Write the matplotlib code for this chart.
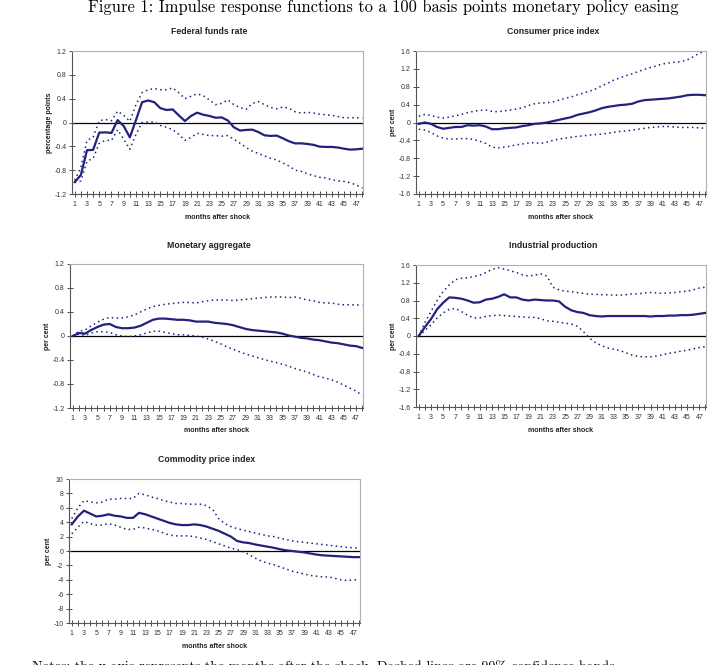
import matplotlib
matplotlib.use("Agg")
import matplotlib.pyplot as plt
from matplotlib import ticker
import numpy as np

plt.rcParams['axes.unicode_minus'] = False
plt.rcParams['font.family'] = ['Liberation Sans', 'DejaVu Sans']

months = list(range(1, 49))
xtick_labels = list(range(1, 48, 2))

ffr_mid = [-1.0, -0.88, -0.465, -0.46, -0.17, -0.165, -0.175, 0.04, -0.06, -0.25, 0.04, 0.34,
           0.37, 0.34, 0.24, 0.21, 0.22, 0.12, 0.025, 0.11, 0.165, 0.13, 0.11, 0.08,
           0.085, 0.035, -0.08, -0.135, -0.125, -0.12, -0.16, -0.215, -0.225, -0.22, -0.265, -0.315,
           -0.35, -0.35, -0.36, -0.375, -0.405, -0.41, -0.41, -0.42, -0.44, -0.455, -0.45, -0.44]
ffr_up = [-0.97, -0.75, -0.3, -0.25, 0.03, 0.05, 0.03, 0.19, 0.12, 0.02, 0.3, 0.5,
          0.55, 0.57, 0.55, 0.55, 0.58, 0.5, 0.4, 0.44, 0.48, 0.45, 0.38, 0.3,
          0.32, 0.38, 0.3, 0.25, 0.22, 0.32, 0.35, 0.3, 0.25, 0.23, 0.26, 0.24,
          0.18, 0.16, 0.17, 0.16, 0.14, 0.13, 0.12, 0.1, 0.08, 0.08, 0.08, 0.07]
ffr_lo = [-1.0, -0.98, -0.65, -0.6, -0.35, -0.3, -0.3, -0.12, -0.28, -0.45, -0.2, 0.0,
          0.01, 0.01, -0.05, -0.08, -0.12, -0.2, -0.3, -0.25, -0.18, -0.2, -0.22, -0.22,
          -0.23, -0.22, -0.28, -0.35, -0.42, -0.48, -0.52, -0.56, -0.6, -0.63, -0.68, -0.73,
          -0.8, -0.82, -0.86, -0.89, -0.92, -0.93, -0.96, -0.98, -0.99, -1.01, -1.05, -1.1]

cpi_mid = [-0.03, 0.0, -0.03, -0.1, -0.14, -0.12, -0.1, -0.1, -0.06, -0.07, -0.06, -0.09,
           -0.15, -0.15, -0.13, -0.12, -0.11, -0.08, -0.06, -0.03, -0.02, 0.0, 0.03, 0.06,
           0.09, 0.12, 0.17, 0.2, 0.23, 0.27, 0.32, 0.35, 0.37, 0.39, 0.4, 0.42,
           0.47, 0.5, 0.51, 0.52, 0.53, 0.54, 0.56, 0.58, 0.61, 0.62, 0.62, 0.61]
cpi_up = [0.14, 0.18, 0.16, 0.12, 0.1, 0.12, 0.15, 0.18, 0.22, 0.25, 0.27, 0.28,
          0.25, 0.24, 0.26, 0.28, 0.3, 0.33, 0.38, 0.42, 0.44, 0.44, 0.46, 0.5,
          0.54, 0.57, 0.62, 0.66, 0.7, 0.75, 0.82, 0.88, 0.95, 1.0, 1.05, 1.09,
          1.14, 1.19, 1.23, 1.27, 1.31, 1.33, 1.35, 1.36, 1.4, 1.47, 1.55, 1.6]
cpi_lo = [-0.15, -0.17, -0.22, -0.3, -0.35, -0.37, -0.37, -0.36, -0.36, -0.38, -0.42, -0.47,
          -0.55, -0.57, -0.55, -0.53, -0.5, -0.48, -0.46, -0.45, -0.47, -0.44, -0.4, -0.37,
          -0.35, -0.33, -0.31, -0.3, -0.28, -0.27, -0.26, -0.24, -0.22, -0.2, -0.19, -0.17,
          -0.15, -0.13, -0.11, -0.1, -0.09, -0.09, -0.1, -0.11, -0.11, -0.11, -0.12, -0.13]

m_mid = [0.0, 0.05, 0.04, 0.1, 0.15, 0.19, 0.2, 0.15, 0.13, 0.13, 0.14, 0.17,
         0.22, 0.27, 0.29, 0.29, 0.28, 0.27, 0.27, 0.26, 0.24, 0.24, 0.24, 0.22,
         0.21, 0.2, 0.18, 0.15, 0.12, 0.1, 0.09, 0.08, 0.07, 0.06, 0.04, 0.01,
         -0.01, -0.03, -0.04, -0.06, -0.07, -0.09, -0.11, -0.12, -0.14, -0.16, -0.17, -0.2]
m_up = [0.0, 0.08, 0.1, 0.17, 0.23, 0.28, 0.31, 0.3, 0.3, 0.32, 0.35, 0.4,
        0.45, 0.49, 0.51, 0.53, 0.54, 0.55, 0.56, 0.56, 0.55, 0.57, 0.59, 0.6,
        0.6, 0.6, 0.59, 0.6, 0.61, 0.62, 0.63, 0.64, 0.65, 0.65, 0.65, 0.64,
        0.65, 0.63, 0.6, 0.59, 0.56, 0.55, 0.55, 0.53, 0.52, 0.52, 0.52, 0.51]
m_lo = [0.0, 0.03, 0.01, 0.05, 0.07, 0.07, 0.06, 0.02, 0.0, -0.01, 0.0, 0.02,
        0.05, 0.08, 0.08, 0.06, 0.04, 0.02, 0.02, 0.01, 0.0, -0.02, -0.05, -0.09,
        -0.13, -0.18, -0.22, -0.26, -0.3, -0.33, -0.36, -0.39, -0.42, -0.44, -0.47, -0.5,
        -0.54, -0.57, -0.6, -0.64, -0.68, -0.7, -0.73, -0.77, -0.82, -0.87, -0.92, -0.99]

ip_mid = [0.0, 0.2, 0.38, 0.6, 0.75, 0.87, 0.86, 0.84, 0.8, 0.75, 0.76, 0.82,
          0.84, 0.88, 0.94, 0.87, 0.87, 0.82, 0.8, 0.82, 0.81, 0.8, 0.8, 0.78,
          0.66, 0.58, 0.54, 0.52, 0.47, 0.45, 0.44, 0.45, 0.45, 0.45, 0.45, 0.45,
          0.45, 0.45, 0.44, 0.45, 0.45, 0.46, 0.46, 0.47, 0.47, 0.48, 0.5, 0.52]
ip_up = [0.0, 0.3, 0.55, 0.8, 1.0, 1.15, 1.27, 1.3, 1.31, 1.34, 1.37, 1.43,
         1.5, 1.54, 1.51, 1.47, 1.43, 1.38, 1.35, 1.37, 1.4, 1.35, 1.1, 1.04,
         1.01, 1.0, 0.98, 0.96, 0.94, 0.94, 0.93, 0.93, 0.92, 0.92, 0.93, 0.95,
         0.95, 0.97, 0.98, 0.97, 0.96, 0.97, 0.98, 1.0, 1.01, 1.04, 1.08, 1.1]
ip_lo = [0.0, 0.12, 0.25, 0.4, 0.52, 0.6, 0.62, 0.55, 0.47, 0.41, 0.41, 0.44,
         0.46, 0.47, 0.46, 0.45, 0.44, 0.43, 0.42, 0.42, 0.39, 0.34, 0.33, 0.31,
         0.29, 0.27, 0.22, 0.1, -0.05, -0.15, -0.22, -0.27, -0.3, -0.33, -0.38, -0.43,
         -0.46, -0.47, -0.47, -0.45, -0.42, -0.39, -0.37, -0.34, -0.32, -0.29, -0.26, -0.24]

cp_mid = [3.7, 4.8, 5.6, 5.2, 4.8, 4.9, 5.1, 4.9, 4.8, 4.6, 4.6, 5.3,
          5.1, 4.8, 4.5, 4.2, 3.9, 3.7, 3.6, 3.6, 3.7, 3.6, 3.4, 3.1,
          2.8, 2.4, 2.0, 1.4, 1.2, 1.1, 0.9, 0.75, 0.6, 0.45, 0.25, 0.1,
          0.0, -0.1, -0.2, -0.35, -0.5, -0.6, -0.65, -0.7, -0.75, -0.8, -0.85, -0.85]
cp_up = [4.5, 6.0, 7.0, 6.8, 6.7, 6.8, 7.2, 7.2, 7.3, 7.3, 7.3, 8.0,
         7.8, 7.5, 7.3, 7.0, 6.8, 6.6, 6.6, 6.5, 6.5, 6.5, 6.3, 5.8,
         4.5, 3.8, 3.4, 3.1, 2.9, 2.7, 2.5, 2.3, 2.1, 2.0, 1.8, 1.6,
         1.4, 1.3, 1.2, 1.1, 1.0, 0.9, 0.8, 0.7, 0.6, 0.5, 0.45, 0.4]
cp_lo = [2.4, 3.3, 4.1, 3.8, 3.6, 3.6, 3.8, 3.6, 3.3, 3.0, 3.0, 3.3,
         3.2, 3.0, 2.8, 2.5, 2.2, 2.1, 2.1, 2.1, 2.0, 1.8, 1.6, 1.3,
         1.0, 0.7, 0.4, 0.2, -0.1, -0.5, -1.0, -1.4, -1.7, -1.9, -2.2, -2.5,
         -2.8, -3.0, -3.2, -3.4, -3.5, -3.6, -3.6, -3.8, -4.0, -4.1, -4.0, -4.0]

titles = ["Federal funds rate", "Consumer price index", "Monetary aggregate",
          "Industrial production", "Commodity price index"]
ylabels = ["percentage points", "per cent", "per cent", "per cent", "per cent"]
xlabel = "months after shock"

W, H = 714, 665
fig = plt.figure(figsize=(W / 100, H / 100), dpi=100)

# (left, right, top, bottom) in pixels
boxes = [(72, 363, 51, 194), (416, 706, 51, 194), (70, 363, 264, 408),
         (416, 706, 265, 407), (69, 360, 479, 623)]
ylims = [(-1.2, 1.2, 0.4), (-1.6, 1.6, 0.4), (-1.2, 1.2, 0.4), (-1.6, 1.6, 0.4), (-10, 10, 2)]
series = [(ffr_mid, ffr_up, ffr_lo), (cpi_mid, cpi_up, cpi_lo), (m_mid, m_up, m_lo),
          (ip_mid, ip_up, ip_lo), (cp_mid, cp_up, cp_lo)]

navy = '#22227E'

def fmt(v, p):
    v = round(v, 6)
    if v == 0:
        return '0'
    return f'{v:g}'

for i in range(5):
    l, r, t, b = boxes[i]
    ax = fig.add_axes([l / W, 1 - b / H, (r - l) / W, (b - t) / H])
    mid, up, lo = series[i]
    ax.axhline(0, color='black', lw=0.9, zorder=1)
    ax.plot(months, up, color=navy, lw=1.1, ls=(0, (1, 2.2)), zorder=2)
    ax.plot(months, lo, color=navy, lw=1.1, ls=(0, (1, 2.2)), zorder=2)
    ax.plot(months, mid, color=navy, lw=1.6, zorder=3)
    y0, y1, st = ylims[i]
    ax.set_ylim(y0, y1)
    ax.set_xlim(0.55, 48.1)
    ax.yaxis.set_major_locator(ticker.MultipleLocator(st))
    ax.yaxis.set_major_formatter(ticker.FuncFormatter(fmt))
    ax.set_xticks(xtick_labels)
    ax.set_xticklabels([str(v) for v in xtick_labels])
    ax.set_xticks(months, minor=True)
    ax.tick_params(axis='both', which='both', direction='inout', labelsize=5,
                   colors='#333333', width=0.6)
    ax.tick_params(axis='y', which='major', length=4, pad=2)
    ax.tick_params(axis='x', which='both', length=4, pad=3)
    for s in ['left', 'bottom']:
        ax.spines[s].set_color('#555555')
        ax.spines[s].set_linewidth(0.8)
    for s in ['top', 'right']:
        ax.spines[s].set_color('#B0B0B0')
        ax.spines[s].set_linewidth(0.8)
    ax.set_xlabel(xlabel, fontsize=5, fontweight='bold', labelpad=4, color='#222222')
    ax.set_ylabel(ylabels[i], fontsize=5, fontweight='bold', labelpad=1, color='#222222')
    cx = (l + r) / 2 - 8
    ty = {0: 31, 1: 31, 2: 245, 3: 245, 4: 459}[i]
    fig.text(cx / W, 1 - ty / H, titles[i], ha='center', va='center', fontsize=6.3,
             fontweight='bold', color='#222222')

fig.text(383 / W, 1 - 7 / H,
         "Figure 1: Impulse response functions to a 100 basis points monetary policy easing",
         ha='center', va='center', fontsize=11.9, family=['cmr10', 'DejaVu Serif'])
fig.text(32 / W, 1 - 660 / H,
         "Notes: the x-axis represents the months after the shock. Dashed lines are 90% confidence bands.",
         ha='left', va='top', fontsize=10, family=['cmr10', 'DejaVu Serif'])

fig.savefig('out.png', dpi=100)
